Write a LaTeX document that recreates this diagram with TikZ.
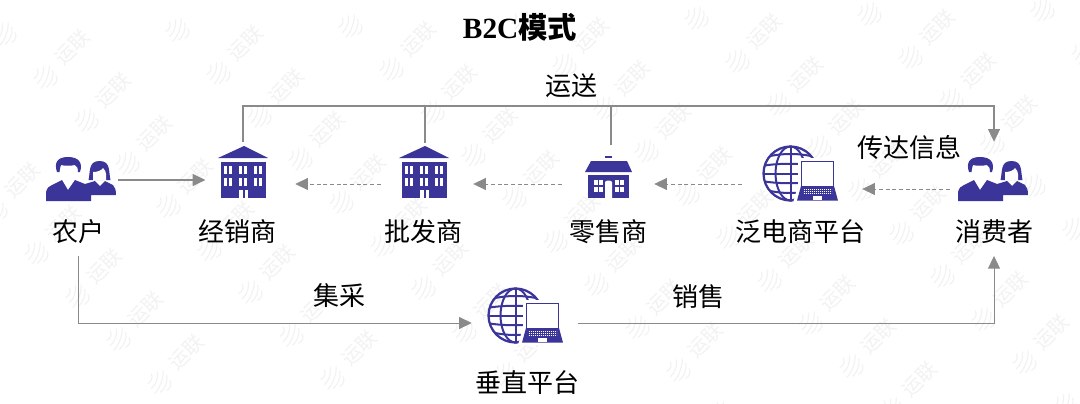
\documentclass[tikz,border=0pt]{standalone}
\usepackage{fontspec}
\setmainfont{Liberation Serif}
\newfontfamily\cjk{Noto Sans CJK SC}
\usetikzlibrary{arrows.meta}
\definecolor{iconblue}{HTML}{3B3499}
\definecolor{linegray}{HTML}{8A8A8A}
\definecolor{markgray}{HTML}{F2F2F2}
\tikzset{
    % Le texte sous les icones
    stage_label/.style={
        font=\cjk\fontsize{19.5}{20}\selectfont,
        inner sep=0pt,
        outer ysep=9pt,
        text=black
    },
    % La boite invisible autour d'une icone
    icon_box/.style={
        inner sep=0pt,
        minimum width=#1
    },
    flow_line/.style={
        draw=linegray,
        line width=0.8pt,
        -{Triangle[length=9.5pt,width=9pt]}
    },
    info_line/.style={
        flow_line,
        line width=0.6pt,
        dash pattern=on 3pt off 2pt
    },
    mark_line/.style={
        draw=markgray,
        line width=0.9pt,
        line cap=round
    },
    % --- Les icones : origine au coin haut gauche ---
    people/.pic={
        \fill[iconblue] (11,15) .. controls (8,6) and (11,0) .. (22,0) .. controls (33,0) and (37,6) .. (34,15)
            -- (32,15) .. controls (32,11) and (31,9) .. (29,8) .. controls (25,9) and (18,9) .. (15,8)
            .. controls (14,10) and (14,12) .. (13.5,15) -- cycle;
        \fill[iconblue] (0,44) -- (0,35) .. controls (1,31) and (3,29) .. (6,28) -- (16,23) -- (22,33) -- (29,23)
            -- (39,27) -- (49,24) -- (54,29) -- (59,24) -- (67,28) .. controls (69,30) and (70,33) .. (70,38)
            -- (45,38) -- (45,44) -- cycle;
        \fill[iconblue] (42.5,23) .. controls (44.5,15) and (42,4) .. (53.5,4) .. controls (65,4) and (62.5,15) .. (64.5,23) -- cycle;
        \fill[white] (47,23.5) -- (47,15) .. controls (51,15) and (55,14) .. (57,11) .. controls (59,13) and (60,15) .. (60,17)
            -- (60,23.5) -- cycle;
    },
    building/.pic={
        \fill[iconblue] (24,0) -- (48,12) -- (-2,12) -- cycle;
        \fill[iconblue] (1,16) rectangle (46,52);
        \foreach \col in {4,19,34} {
            \foreach \row in {20,32} {
                \fill[white] (\col,\row) rectangle ++(3.4,8);
                \fill[white] (\col+5,\row) rectangle ++(3.4,8);
            }
        }
        \fill[white] (19,44) rectangle ++(3.5,8);
        \fill[white] (24.5,44) rectangle ++(3.5,8);
    },
    shop/.pic={
        \fill[iconblue] (20,1) rectangle (27,3);
        \fill[iconblue] (6,6) -- (42,6) -- (47,17) -- (0,17) -- cycle;
        \fill[iconblue] (3,20) rectangle (44,43);
        \fill[white] (20,43) -- (20,27) .. controls (21,25) and (26,25) .. (27,27) -- (27,43) -- cycle;
        \foreach \col in {9,30} {
            \foreach \row in {25,32} {
                \fill[white] (\col,\row) rectangle ++(3.6,5);
                \fill[white] (\col+5.4,\row) rectangle ++(3.6,5);
            }
        }
    },
    web_laptop/.pic={
        % le globe
        \begin{scope}
            \clip (28.5,28.5) circle (27);
            \foreach \yy/\bb in {-18/3,-9/1.5,0/0,9/-1.5,18/-3} {
                \draw[iconblue,line width=1.5pt] (0,28.5+\yy+\bb) .. controls (15,28.5+\yy-\bb) and (42,28.5+\yy-\bb) .. (57,28.5+\yy+\bb);
            }
        \end{scope}
        \draw[iconblue,line width=1.7pt] (28.5,28.5) circle (27);
        \draw[iconblue,line width=1.5pt] (28.5,28.5) ellipse [x radius=15, y radius=27];
        \draw[iconblue,line width=1.5pt] (28.5,1.5) -- (28.5,55.5);
        % l'ordinateur
        \fill[white] (36,13) -- (75,13) -- (75,40) -- (80,58) -- (31,58) -- (36,40) -- cycle;
        \draw[iconblue,line width=1.2pt,fill=white] (39.5,16.5) rectangle (71.5,41.5);
        \fill[iconblue] (39,41) -- (72,41) -- (76,55.7) -- (35,55.7) -- cycle;
        \foreach \yy in {44.3,46.3,48.3} {
            \draw[white,line width=0.7pt,dash pattern=on 0.9pt off 0.6pt] (41.5,\yy) -- (69.5,\yy);
        }
        \fill[white] (50.5,50.5) rectangle (59.5,54.5);
    },
    water_swirl/.pic={
        \begin{scope}[rotate=-20]
            \foreach \dx/\hh in {-10/5,-5/9,0/12,5/9,10/5} {
                \draw[mark_line] (\dx,-\hh) .. controls (\dx+3,-\hh/2) and (\dx+3,\hh/2) .. (\dx,\hh);
            }
        \end{scope}
    }
}

\begin{document}
\begin{tikzpicture}[x=0.75pt,y=-0.75pt]
        \useasboundingbox (0,0) rectangle (1080,403);

        % --- 1. Le filigrane ---
        \begin{scope}
            \clip (0,0) rectangle (1080,403);
            \foreach \i in {-3,...,7} {
                \foreach \j in {-2,...,8} {
                    \pgfmathsetmacro\markx{45+173*\i+41*\j}
                    \pgfmathsetmacro\marky{77-4*\i+43*\j}
                    \pic at (\markx,\marky) {water_swirl};
                    \pgfmathtruncatemacro\keepmark{(\markx>-7 && \markx<1033 && \marky>50 && \marky<413) ? 1 : 0}
                    \ifnum\keepmark=1
                        \node[font=\cjk\fontsize{15}{15}\selectfont,text=markgray,rotate=45,inner sep=0pt] (mark_\i_\j) at (\markx+27,\marky-30) {运联};
                    \fi
                }
            }
        \end{scope}

        % --- 2. Les boites des icones ---
        \node[icon_box=57pt, minimum height=60pt] (farmer) at (80,180) {};
        \node[icon_box=78pt, minimum height=63pt] (dealer) at (243,184) {};
        \node[icon_box=66pt, minimum height=61.5pt] (wholesale) at (425,184) {};
        \node[icon_box=73.5pt, minimum height=58.5pt] (retail) at (611,184) {};
        \node[icon_box=90pt, minimum height=60pt] (platform) at (802,184) {};
        \node[icon_box=66pt, minimum height=70.5pt] (consumer) at (994,189) {};
        \node[icon_box=79.5pt, minimum height=45pt] (vertical) at (525,323) {};
        \coordinate (bus) at (611,106);

        % --- 3. Les icones ---
        \pic at (46,157) {people};
        \pic at (220,146) {building};
        \pic at (401,146) {building};
        \pic at (585,155) {shop};
        \pic at (762,145) {web_laptop};
        \pic at (958,157) {people};
        \pic at (487,287) {web_laptop};

        % --- 4. Les textes ---
        \node[font=\cjk\bfseries\fontsize{22}{22}\selectfont, inner sep=0pt] (title) at (520,27) {{\fontspec{Liberation Serif}\bfseries B2C}模式};
        \node[stage_label] (farmer_text) at (78,232) {农户};
        \node[stage_label] (dealer_text) at (237,232) {经销商};
        \node[stage_label] (wholesale_text) at (423,232) {批发商};
        \node[stage_label] (retail_text) at (608,232) {零售商};
        \node[stage_label] (platform_text) at (800,232) {泛电商平台};
        \node[stage_label] (consumer_text) at (994,232) {消费者};
        \node[stage_label] (vertical_text) at (527,383) {垂直平台};
        \node[stage_label] (ship_text) at (571,86) {运送};
        \node[stage_label] (inform_text) at (909,148) {传达信息};
        \node[stage_label] (collect_text) at (339,296) {集采};
        \node[stage_label] (sell_text) at (698,297) {销售};

        % --- 5. Les liaisons ---
        \draw[flow_line, shorten >=-11pt] (farmer.east) -- (dealer.west |- farmer.east);
        \draw[info_line] (wholesale.west) -- (dealer.east);
        \draw[info_line, shorten >=3pt] (retail.west) -- (wholesale.east);
        \draw[info_line, shorten >=-4.5pt] (platform.west) -- (retail.east);
        \draw[info_line] (consumer.west) -- (platform.east |- consumer.west);
        \draw[flow_line, line width=0.9pt] (dealer.north) |- (bus) -| (consumer.north);
        \draw[draw=linegray, line width=0.8pt] (wholesale.north) -- (wholesale.north |- bus);
        \draw[draw=linegray, line width=0.8pt] (retail.north) -- (bus);
        \draw[flow_line, line width=0.6pt] (farmer_text.south) |- (vertical.west);
        \draw[flow_line, line width=0.6pt] (vertical.east) -| (consumer_text.south);
    \end{tikzpicture}
\end{document}
